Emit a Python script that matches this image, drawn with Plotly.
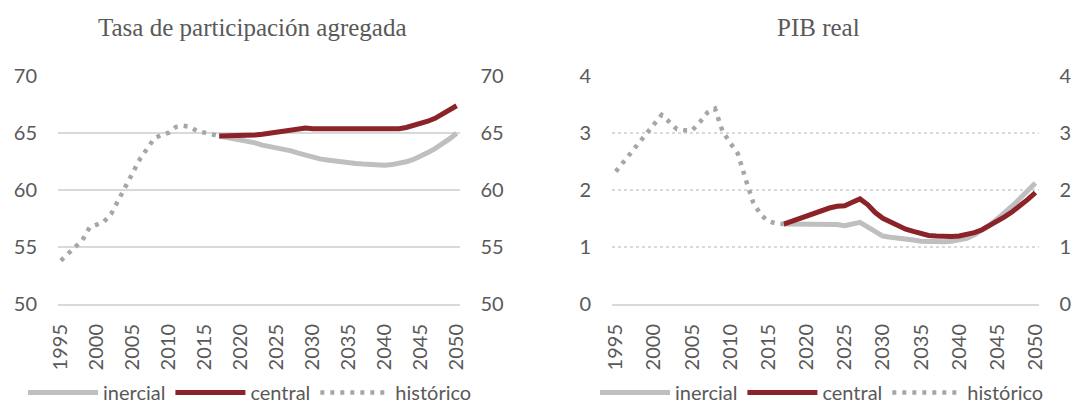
import plotly.graph_objects as go

# ---------------- data ----------------
years_hist = list(range(1995, 2018))
years_proj = list(range(2017, 2051))

part_hist = [53.8, 54.4, 55.0, 55.6, 56.7, 57.0, 57.2, 57.9, 59.1, 60.4, 61.6, 62.7,
             63.6, 64.5, 64.8, 65.0, 65.5, 65.6, 65.5, 65.1, 65.0, 64.8, 64.7]
part_inercial = [64.7, 64.6, 64.5, 64.3, 64.2, 64.1, 63.9, 63.8, 63.6, 63.5, 63.4, 63.2,
                 63.0, 62.8, 62.7, 62.6, 62.5, 62.4, 62.35, 62.3, 62.25, 62.2, 62.15, 62.15,
                 62.2, 62.3, 62.45, 62.65, 62.9, 63.25, 63.6, 64.0, 64.45, 64.95]
part_central = [64.7, 64.7, 64.7, 64.75, 64.8, 64.8, 64.85, 64.95, 65.05, 65.15, 65.3, 65.35,
                65.4, 65.35, 65.35, 65.35, 65.35, 65.3, 65.3, 65.25, 65.25, 65.25, 65.25, 65.3,
                65.3, 65.35, 65.45, 65.6, 65.75, 66.0, 66.25, 66.6, 67.0, 67.35]

pib_hist = [2.32, 2.49, 2.66, 2.82, 2.97, 3.17, 3.31, 3.19, 3.06, 3.04, 3.04, 3.18,
            3.35, 3.42, 3.02, 2.82, 2.63, 2.19, 1.78, 1.56, 1.45, 1.41, 1.40]
pib_inercial = [1.40, 1.40, 1.40, 1.40, 1.40, 1.39, 1.39, 1.39, 1.37, 1.40, 1.43, 1.35,
                1.27, 1.19, 1.17, 1.16, 1.14, 1.12, 1.10, 1.09, 1.09, 1.09, 1.10, 1.12,
                1.15, 1.21, 1.29, 1.38, 1.49, 1.60, 1.72, 1.85, 1.98, 2.12]
pib_central = [1.40, 1.45, 1.50, 1.55, 1.60, 1.64, 1.68, 1.71, 1.72, 1.78, 1.84, 1.74,
               1.60, 1.50, 1.43, 1.37, 1.31, 1.27, 1.23, 1.20, 1.19, 1.18, 1.18, 1.19,
               1.21, 1.25, 1.30, 1.37, 1.44, 1.53, 1.62, 1.72, 1.83, 1.95]

titles = ["Tasa de participación agregada", "PIB real"]
x_ticks = list(range(1995, 2051, 5))
left_ticks = [50, 55, 60, 65, 70]
right_ticks = [0, 1, 2, 3, 4]
series_names = ["inercial", "central", "histórico"]

# ---------------- style ----------------
W, H = 1075, 412
GRAY = "#BFBFBF"
RED = "#8B2329"
DOT = "#A6A6A6"
GRID = "#D9D9D9"
TXT = "#595959"
FONT = "Lato"


def fx(px):
    return px / W


def fy(px_from_top):
    return 1 - px_from_top / H


y_dom = [fy(304), fy(75.5)]

fig = go.Figure()


def add_panel(xa, ya, ya2, legend, hist, iner, cent):
    fig.add_trace(go.Scatter(x=years_proj, y=iner, name=series_names[0], mode="lines",
                             line=dict(color=GRAY, width=5), xaxis=xa, yaxis=ya,
                             legend=legend))
    fig.add_trace(go.Scatter(x=years_proj, y=cent, name=series_names[1], mode="lines",
                             line=dict(color=RED, width=5), xaxis=xa, yaxis=ya,
                             legend=legend))
    fig.add_trace(go.Scatter(x=years_hist, y=hist, name=series_names[2], mode="lines",
                             line=dict(color=DOT, width=4.5, dash="4px,6px"),
                             xaxis=xa, yaxis=ya, legend=legend))
    # invisible helper trace so the mirrored right-hand axis is drawn
    fig.add_trace(go.Scatter(x=years_hist, y=hist, mode="lines", opacity=0,
                             showlegend=False, hoverinfo="skip",
                             line=dict(width=0), xaxis=xa, yaxis=ya2))


add_panel("x", "y", "y2", "legend", part_hist, part_inercial, part_central)
add_panel("x2", "y3", "y4", "legend2", pib_hist, pib_inercial, pib_central)

tickfont = dict(family=FONT, size=20, color=TXT)

xcommon = dict(tickmode="array", tickvals=x_ticks, ticktext=[str(v) for v in x_ticks],
               tickangle=-90, showgrid=False, zeroline=False, showline=True,
               linecolor=GRID, linewidth=2, ticks="", tickfont=tickfont,
               ticklabelstandoff=10, automargin=False)

fig.update_layout(
    width=W, height=H,
    margin=dict(l=0, r=0, t=0, b=0),
    paper_bgcolor="white", plot_bgcolor="white",
    showlegend=True,
    xaxis=dict(domain=[fx(58), fx(459.5)], anchor="y", range=[1994.6, 2050.4], **xcommon),
    xaxis2=dict(domain=[fx(612), fx(1038.5)], anchor="y3", range=[1994.5, 2050.4], **xcommon),
    yaxis=dict(domain=y_dom, anchor="x", range=[50, 70], tickvals=left_ticks,
               showgrid=True, gridcolor=GRID, gridwidth=2, zeroline=False,
               showline=False, ticks="", tickfont=tickfont, ticklabelstandoff=20,
               automargin=False),
    yaxis2=dict(domain=y_dom, anchor="x", overlaying="y", side="right", range=[50, 70],
                tickvals=left_ticks, showgrid=False, zeroline=False, showline=False,
                ticks="", tickfont=tickfont, ticklabelstandoff=20, automargin=False),
    yaxis3=dict(domain=y_dom, anchor="x2", range=[0, 4], tickvals=right_ticks,
                showgrid=True, gridcolor=GRID, gridwidth=1.5, griddash="dot",
                zeroline=False, showline=False, ticks="", tickfont=tickfont,
                ticklabelstandoff=20, automargin=False),
    yaxis4=dict(domain=y_dom, anchor="x2", overlaying="y3", side="right", range=[0, 4],
                tickvals=right_ticks, showgrid=False, zeroline=False, showline=False,
                ticks="", tickfont=tickfont, ticklabelstandoff=20, automargin=False),
    legend=dict(orientation="h", x=fx(250), xanchor="center", y=0,
                yanchor="bottom", font=dict(family=FONT, size=20, color=TXT),
                itemwidth=70, tracegroupgap=0, bgcolor="rgba(0,0,0,0)"),
    legend2=dict(orientation="h", x=fx(822), xanchor="center", y=0,
                 yanchor="bottom", font=dict(family=FONT, size=20, color=TXT),
                 itemwidth=70, tracegroupgap=0, bgcolor="rgba(0,0,0,0)"),
    annotations=[
        dict(text=titles[0], x=fx(252), y=fy(28), xref="paper", yref="paper",
             xanchor="center", yanchor="middle", showarrow=False,
             font=dict(family="Liberation Serif", size=25, color=TXT)),
        dict(text=titles[1], x=fx(818), y=fy(28), xref="paper", yref="paper",
             xanchor="center", yanchor="middle", showarrow=False,
             font=dict(family="Liberation Serif", size=25, color=TXT)),
    ],
)

fig.write_html("out.html", config={"displayModeBar": False},
               post_script="document.body.style.margin='0';document.body.style.padding='0';")
